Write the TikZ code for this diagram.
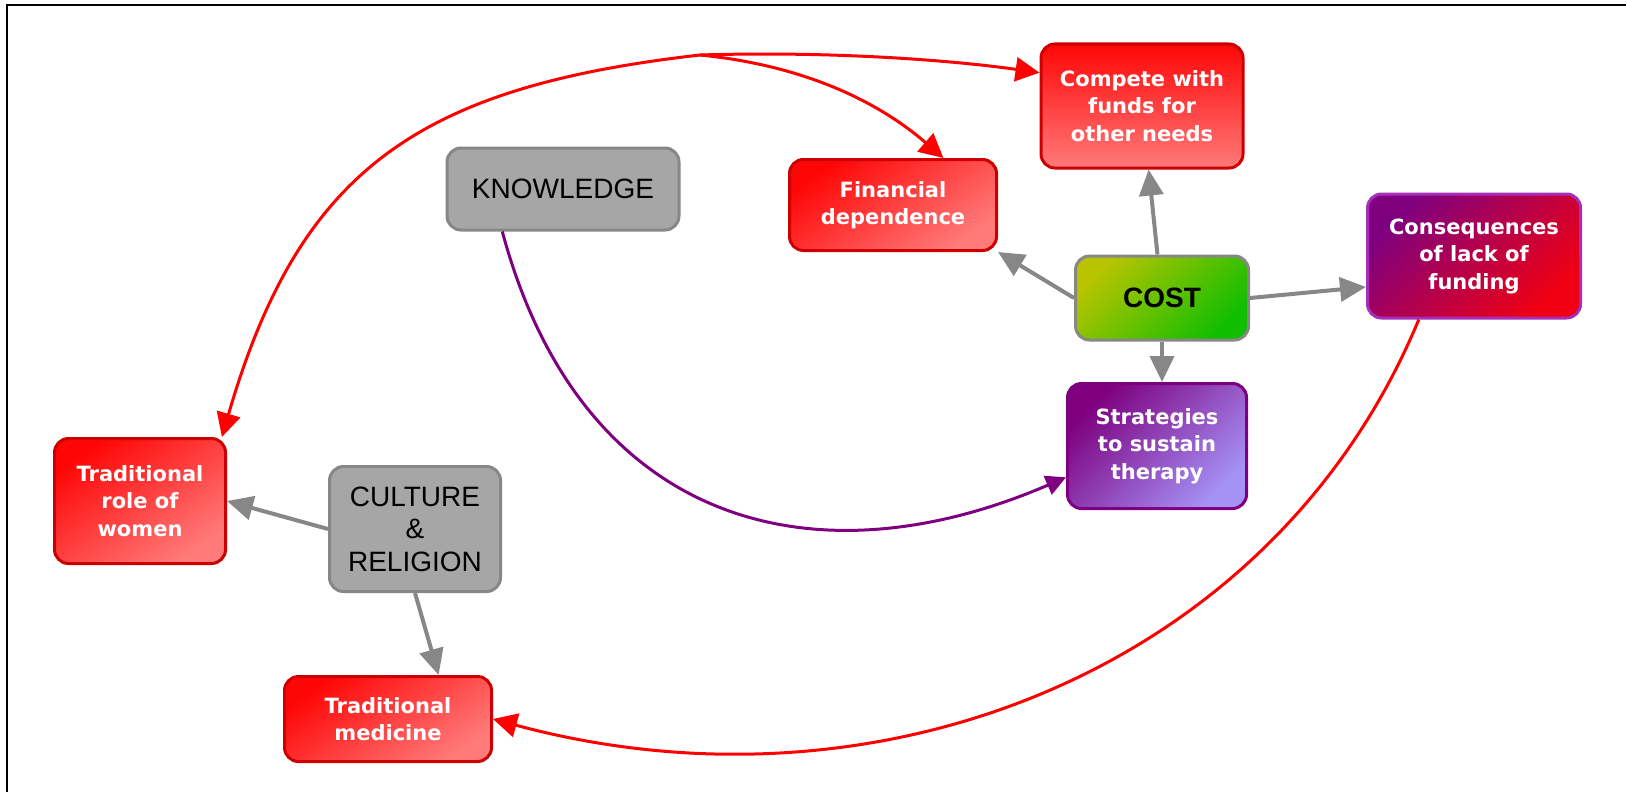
\documentclass[tikz,border=0pt]{standalone}
\usepackage{fontspec}
\setmainfont{Liberation Sans}
\newfontfamily\boxfont{DejaVu Sans}
\usetikzlibrary{arrows.meta}

\definecolor{linkgrey}{HTML}{878787}
\definecolor{boxgrey}{HTML}{A6A6A6}
\definecolor{redline}{HTML}{CC0000}
\definecolor{redtop}{HTML}{FF0606}
\definecolor{redbot}{HTML}{FF7A7A}
\definecolor{greentop}{HTML}{B8C400}
\definecolor{greenbot}{HTML}{10BE00}
\definecolor{plum}{HTML}{7E0080}
\definecolor{plumline}{HTML}{A62EB8}
\definecolor{crimson}{HTML}{F00012}
\definecolor{lavender}{HTML}{A592F5}

\begin{document}
\begin{tikzpicture}[x=0.5pt,y=-0.5pt,
  box/.style={draw, line width=1.5pt, rounded corners=7pt, inner sep=0pt, align=center},
  whitetext/.style={text=white, font=\boxfont\bfseries\fontsize{10.5}{13.75}\selectfont},
  blacktext/.style={text=black, font=\fontsize{14}{16.25}\selectfont},
  redbox/.style={box, whitetext, draw=redline, top color=redtop, bottom color=redbot, shading angle=35},
  greybox/.style={box, blacktext, draw=linkgrey, fill=boxgrey},
  greenbox/.style={box, blacktext, draw=linkgrey, top color=greentop, bottom color=greenbot, shading angle=45},
  plumbox/.style={box, whitetext, draw=plum, top color=plum, bottom color=lavender, shading angle=45},
  greylink/.style={draw=linkgrey, line width=2pt, -{Triangle[length=13pt,width=12pt]}},
  redlink/.style={draw=red, line width=1.5pt, -{Triangle[length=12pt,width=12pt]}},
  plumlink/.style={draw=plum, line width=1.5pt, -{Triangle[length=10pt,width=10pt]}}]
\useasboundingbox (0,0) rectangle (1626,792);
\draw[line width=1pt] (1626,5) -- (7,5) -- (7,792);
%% nodes
\node[redbox, minimum width=101pt, minimum height=62pt, shading angle=0] (Compete) at (1142,106) {Compete with\\funds for\\other needs};
\node[redbox, minimum width=103.5pt, minimum height=45.5pt] (Financial) at (893,205) {Financial\\dependence};
\node[greybox, minimum width=116pt, minimum height=41pt] (Knowledge) at (563,189) {KNOWLEDGE};
\node[greenbox, minimum width=86.5pt, minimum height=42pt, font=\bfseries\fontsize{14}{16.25}\selectfont] (Cost) at (1162,298) {COST};
\node[box, whitetext, draw=plumline, top color=plum, bottom color=crimson, shading angle=45,
      minimum width=106.5pt, minimum height=62pt] (Consequences) at (1474,256) {Consequences\\of lack of\\funding};
\node[plumbox, minimum width=89.5pt, minimum height=62.5pt] (Strategies) at (1157,446) {Strategies\\to sustain\\therapy};
\node[redbox, minimum width=85.5pt, minimum height=62.5pt] (Women) at (140,501) {Traditional\\role of\\women};
\node[greybox, minimum width=85.5pt, minimum height=62.5pt] (Culture) at (415,529) {CULTURE\\\&\\RELIGION};
\node[redbox, minimum width=103.5pt, minimum height=42.5pt] (Medicine) at (388,719) {Traditional\\medicine};
\coordinate (fork) at (700,55);
%%% edges
\draw[greylink] (Cost) -- (Compete);
\draw[greylink] (Cost.west) -- (Financial.south east);
\draw[greylink] (Cost.east) -- (Consequences.196);
\draw[greylink] (Cost.south) -- (Cost.south |- Strategies.north);
\draw[greylink] (Culture.west) -- (Women.east);
\draw[greylink] (Culture.south) -- (Medicine.41);
\draw[plumlink] (Knowledge.215) .. controls (580,521) and (809,588) .. (Strategies.199);
\draw[redlink] (Consequences.229) .. controls (1273,671) and (878,823) .. (Medicine.east);
\draw[redlink] (fork) .. controls (420,87) and (300,168) .. (Women.38);
\draw[redlink] (fork) .. controls (830,51) and (950,60) .. (Compete.162);
\draw[redlink] (fork) .. controls (800,65) and (875,99) .. (Financial.43);
\end{tikzpicture}
\end{document}
